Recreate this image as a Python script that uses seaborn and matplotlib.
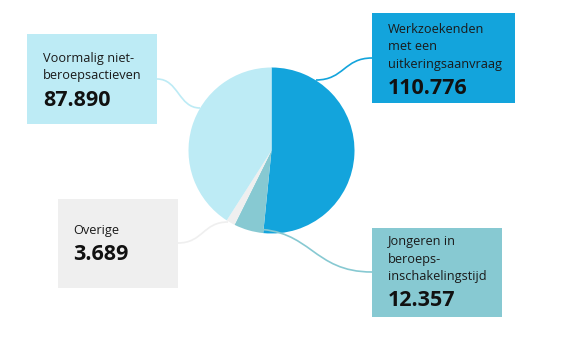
import matplotlib.pyplot as plt
import seaborn as sns
from matplotlib.path import Path
from matplotlib.patches import PathPatch, Rectangle

# Data
categories = ["Werkzoekenden met een uitkeringsaanvraag",
              "Jongeren in beroepsinschakelingstijd",
              "Overige",
              "Voormalig niet-beroepsactieven"]
label_lines = [["Werkzoekenden", "met een", "uitkeringsaanvraag"],
               ["Jongeren in", "beroeps-", "inschakelingstijd"],
               ["Overige"],
               ["Voormalig niet-", "beroepsactieven"]]
values = [110776, 12357, 3689, 87890]
colors = ["#13a4dc", "#87c9d2", "#efefef", "#bdebf5"]

W, H = 562, 357

# Layout in pixel coordinates (y measured from the top)
boxes = [(372, 13, 515, 103), (372, 228, 502, 317), (58, 199, 178, 288), (27, 34, 157, 124)]
first_baseline = [33, 245, 234, 62]
text_x = [388, 388, 73, 43]
line_ends = [((372, 58), (316, 80)), ((372, 272), (252, 229)),
             ((178, 243), (228, 222)), ((157, 79), (200, 108))]
pie_center = (271.5, 150.5)
pie_radius = 83


def fy(y):
    return H - y


def fmt(v):
    return f"{v:,}".replace(",", ".")


def main():
    sns.set_theme(style="white")
    plt.rcParams["font.family"] = ["Open Sans", "DejaVu Sans"]

    fig = plt.figure(figsize=(W / 100, H / 100), dpi=100)
    ax = fig.add_axes([0, 0, 1, 1])

    ax.pie(values, colors=colors, startangle=90, counterclock=False,
           center=(pie_center[0], fy(pie_center[1])), radius=pie_radius,
           wedgeprops=dict(linewidth=0))
    ax.set_xlim(0, W)
    ax.set_ylim(0, H)
    ax.set_aspect("auto")
    ax.axis("off")

    for i, name in enumerate(categories):
        x0, y0, x1, y1 = boxes[i]
        ax.add_patch(Rectangle((x0, fy(y1)), x1 - x0, y1 - y0,
                               facecolor=colors[i], edgecolor="none", zorder=3))

        # connector: S-curve from box side to the pie slice
        (bx, by), (px, py) = line_ends[i]
        mx = (bx + px) / 2
        verts = [(bx, fy(by)), (mx, fy(by)), (mx, fy(py)), (px, fy(py))]
        path = Path(verts, [Path.MOVETO, Path.CURVE4, Path.CURVE4, Path.CURVE4])
        ax.add_patch(PathPatch(path, facecolor="none", edgecolor=colors[i],
                               linewidth=1.2, zorder=2))

        y = first_baseline[i]
        for line in label_lines[i]:
            ax.text(text_x[i], fy(y), line, fontsize=9.2, color="#1a1a1a",
                    va="baseline", ha="left", zorder=4)
            y += 17.5
        ax.text(text_x[i], fy(y - 17.5 + 26), fmt(values[i]), fontsize=15.5,
                fontweight="bold", color="#111111", va="baseline", ha="left", zorder=4)

    fig.savefig("out.png", dpi=100)


if __name__ == "__main__":
    main()
